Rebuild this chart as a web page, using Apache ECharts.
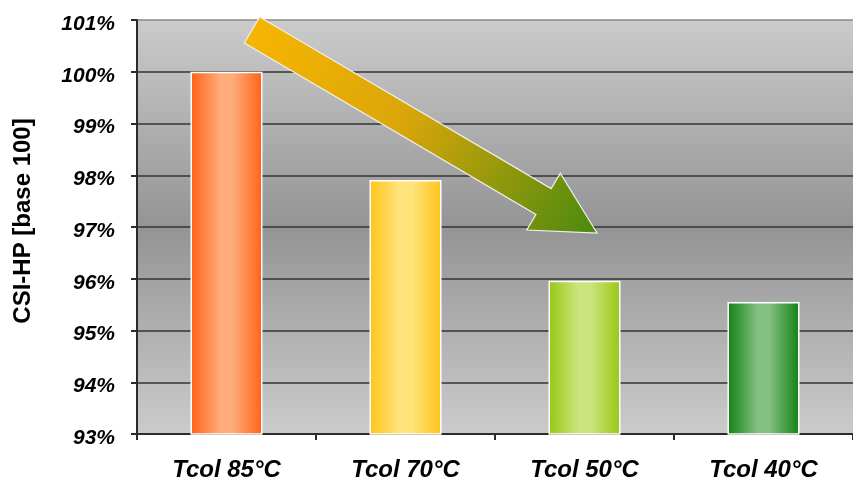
<!DOCTYPE html>
<html><head><meta charset="utf-8">
<script src="https://cdn.jsdelivr.net/npm/echarts@6/dist/echarts.min.js"></script>
<style>html,body{margin:0;padding:0;background:#fff}#c{width:853px;height:486px}</style>
</head><body><div id="c"></div>
<script>
var categories = ['Tcol 85°C', 'Tcol 70°C', 'Tcol 50°C', 'Tcol 40°C'];
var values = [100.0, 97.91, 95.96, 95.55];
var yTicks = [93, 94, 95, 96, 97, 98, 99, 100, 101];
var barEdge = ['#ff6214', '#ffc41a', '#98c814', '#128212'];
var barMid = ['#ffac7c', '#ffe47c', '#cce47e', '#82c084'];

var chart = echarts.init(document.getElementById('c'));
function grad(e, m) {
  return new echarts.graphic.LinearGradient(0, 0, 1, 0, [
    {offset: 0, color: e}, {offset: 0.42, color: m}, {offset: 0.58, color: m}, {offset: 1, color: e}
  ]);
}
var font = '"Liberation Sans", Arial, sans-serif';
chart.setOption({
  animation: false,
  grid: {
    left: 137, top: 20, width: 720, height: 414, show: true, borderWidth: 0,
    backgroundColor: new echarts.graphic.LinearGradient(0, 0, 0, 1, [
      {offset: 0, color: '#cbcbcb'}, {offset: 0.5, color: '#949494'}, {offset: 1, color: '#cbcbcb'}
    ])
  },
  xAxis: {
    type: 'category', data: categories,
    axisLine: {lineStyle: {color: '#2b2b2b', width: 2}},
    axisTick: {show: true, length: 6, lineStyle: {color: '#2b2b2b', width: 2}},
    axisLabel: {color: '#000', fontFamily: font, fontWeight: 'bold', fontStyle: 'italic', fontSize: 24, margin: 24}
  },
  yAxis: {
    type: 'value', min: yTicks[0], max: yTicks[yTicks.length - 1], interval: 1,
    axisLine: {show: true, lineStyle: {color: '#2b2b2b', width: 2}},
    axisTick: {show: true, length: 6, lineStyle: {color: '#2b2b2b', width: 2}},
    axisLabel: {color: '#000', fontFamily: font, fontWeight: 'bold', fontStyle: 'italic', fontSize: 21, margin: 22,
      verticalAlign: 'top', lineHeight: 8,
      formatter: function (v) { return v + '%'; }},
    splitLine: {lineStyle: {color: ['#333', '#333', '#333', '#333', '#333', '#333', '#333', '#333', '#8a8a8a'], width: 1.5}}
  },
  series: [{
    type: 'bar', barWidth: 72,
    data: values.map(function (v, i) {
      return {value: v, itemStyle: {color: grad(barEdge[i], barMid[i]), borderColor: '#fff', borderWidth: 1.5}};
    })
  }]
});

// axis title + decorative trend arrow (annotation)
(function () {
  var tail = [252, 30], tip = [597, 233];
  var dx = tip[0] - tail[0], dy = tip[1] - tail[1];
  var L = Math.sqrt(dx * dx + dy * dy), ux = dx / L, uy = dy / L, nx = -uy, ny = ux;
  var shaftW = 15, headW = 33, headL = 62;
  var bx = tip[0] - ux * headL, by = tip[1] - uy * headL;
  var pts = [
    [tail[0] + nx * shaftW, tail[1] + ny * shaftW],
    [bx + nx * shaftW, by + ny * shaftW],
    [bx + nx * headW, by + ny * headW],
    tip,
    [bx - nx * headW, by - ny * headW],
    [bx - nx * shaftW, by - ny * shaftW],
    [tail[0] - nx * shaftW, tail[1] - ny * shaftW]
  ];
  chart.setOption({graphic: [{
    type: 'polygon', z: 100, shape: {points: pts},
    style: {
      fill: new echarts.graphic.LinearGradient(0, 0, 1, 1, [
        {offset: 0, color: '#f8b600'}, {offset: 0.45, color: '#dca60a'}, {offset: 1, color: '#4a8a0e'}
      ]),
      stroke: '#f0f0f0', lineWidth: 1.2
    }
  }, {
    type: 'text', x: 23, y: 221, rotation: Math.PI / 2, z: 100,
    style: {text: 'CSI-HP [base 100]', fill: '#000', font: 'bold 24px ' + font, align: 'center', verticalAlign: 'middle'}
  }]});
})();
</script></body></html>
